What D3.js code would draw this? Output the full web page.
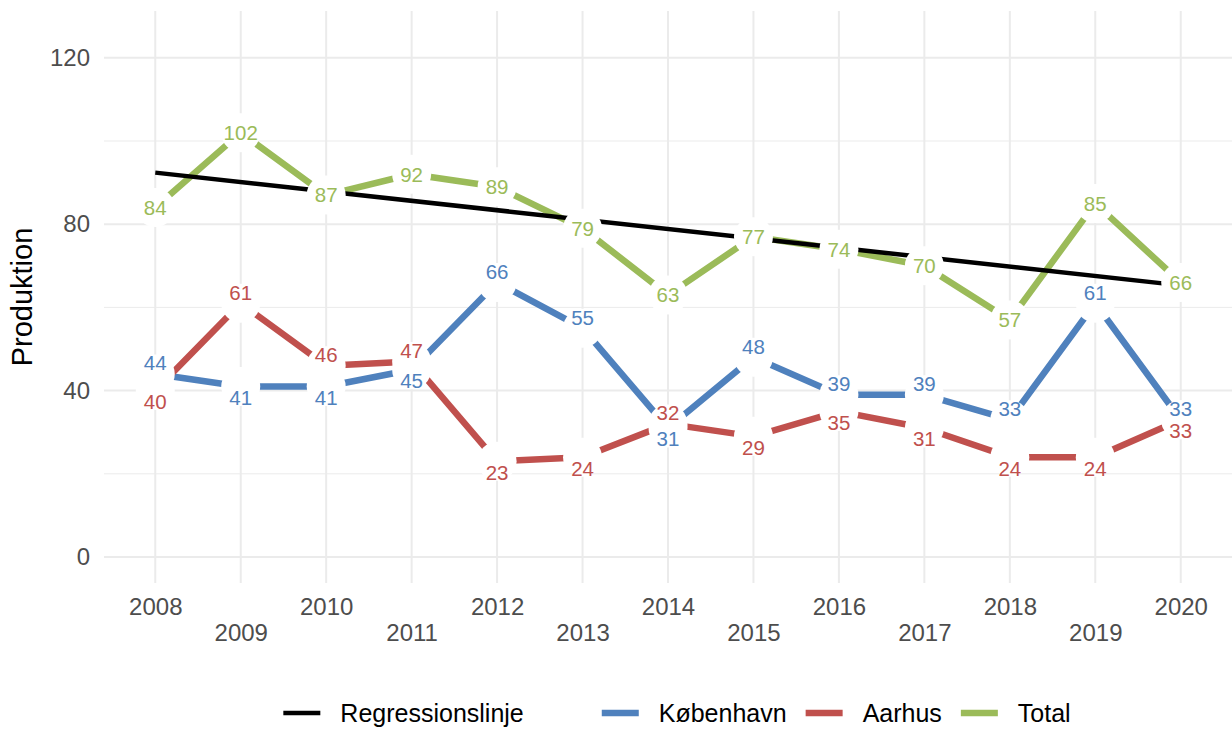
<!DOCTYPE html>
<html>
<head>
<meta charset="utf-8">
<script src="https://cdn.jsdelivr.net/npm/d3@7"></script>
<style>
  body { margin: 0; background: #fff; }
  text { font-family: "Liberation Sans", Arial, sans-serif; }
</style>
</head>
<body>
<div class="svgContainer"></div>
<script>
// data
const years = [2008, 2009, 2010, 2011, 2012, 2013, 2014, 2015, 2016, 2017, 2018, 2019, 2020];
const kbh = [44, 41, 41, 45, 66, 55, 31, 48, 39, 39, 33, 61, 33];
const aarhus = [40, 61, 46, 47, 23, 24, 32, 29, 35, 31, 24, 24, 33];
const total = [84, 102, 87, 92, 89, 79, 63, 77, 74, 70, 57, 85, 66];
const yTicks = [0, 40, 80, 120];
const yMinor = [20, 60, 100];
const seriesNames = ["København", "Aarhus", "Total"];
const regName = "Regressionslinje";
const yTitle = "Produktion";

const colors = { "København": "#4F81BD", "Aarhus": "#C0504D", "Total": "#9BBB59" };

let width = 1232,
    height = 729;

const svg = d3.select('.svgContainer')
    .append('svg')
    .attr('width', width)
    .attr('height', height);

svg.append('rect').attr('width', width).attr('height', height).attr('fill', '#fff');

const panel = { left: 104, right: 1232, top: 11, bottom: 583 };

const x = d3.scaleLinear()
    .domain([2008 - 0.6, 2020 + 0.6])
    .range([panel.left, panel.right]);

const y = d3.scaleLinear()
    .domain([-6.25, 131.25])
    .range([panel.bottom, panel.top]);

// grid
const grid = svg.append('g');
grid.selectAll('.minor')
    .data(yMinor)
    .enter().append('line')
    .attr('x1', panel.left).attr('x2', panel.right)
    .attr('y1', d => y(d)).attr('y2', d => y(d))
    .attr('stroke', '#EBEBEB').attr('stroke-width', 1);
grid.selectAll('.hmajor')
    .data(yTicks)
    .enter().append('line')
    .attr('x1', panel.left).attr('x2', panel.right)
    .attr('y1', d => y(d)).attr('y2', d => y(d))
    .attr('stroke', '#EBEBEB').attr('stroke-width', 2);
grid.selectAll('.vmajor')
    .data(years)
    .enter().append('line')
    .attr('x1', d => x(d)).attr('x2', d => x(d))
    .attr('y1', panel.top).attr('y2', panel.bottom)
    .attr('stroke', '#EBEBEB').attr('stroke-width', 2);

// axes
const yAxis = svg.append('g')
    .attr('transform', `translate(${panel.left},0)`)
    .call(d3.axisLeft(y).tickValues(yTicks).tickSize(0).tickPadding(14));
yAxis.select('.domain').remove();
yAxis.selectAll('text')
    .attr('font-size', 24)
    .attr('fill', '#4D4D4D')
    .style('font-family', '"Liberation Sans", Arial, sans-serif');

const xAxis = svg.append('g')
    .attr('transform', `translate(0,${panel.bottom})`)
    .call(d3.axisBottom(x).tickValues(years).tickFormat(d3.format('d')).tickSize(0));
xAxis.select('.domain').remove();
xAxis.selectAll('text')
    .attr('font-size', 24)
    .attr('fill', '#4D4D4D')
    .attr('y', (d, i) => i % 2 ? 49.5 : 23.5)
    .attr('dy', '0.36em')
    .style('font-family', '"Liberation Sans", Arial, sans-serif');

svg.append('text')
    .attr('transform', `translate(22,${(panel.top + panel.bottom) / 2}) rotate(-90)`)
    .attr('text-anchor', 'middle')
    .attr('dy', '0.36em')
    .attr('font-size', 29)
    .attr('fill', '#000')
    .text(yTitle);

// series
const series = [
    { name: "København", values: kbh },
    { name: "Aarhus", values: aarhus },
    { name: "Total", values: total }
].map(s => ({ name: s.name, points: years.map((yr, i) => ({ year: yr, value: s.values[i], i: i })) }));

const line = d3.line()
    .x(d => x(d.year))
    .y(d => y(d.value));

svg.append('g').selectAll('path')
    .data(series)
    .enter().append('path')
    .attr('d', d => line(d.points))
    .attr('fill', 'none')
    .attr('stroke', d => colors[d.name])
    .attr('stroke-width', 6.5)
    .attr('stroke-linejoin', 'round');

// regression on total (least squares)
const mx = d3.mean(years), my = d3.mean(total);
const slope = d3.sum(years, (yr, i) => (yr - mx) * (total[i] - my)) / d3.sum(years, yr => (yr - mx) * (yr - mx));
const reg = [years[0], years[years.length - 1]].map(yr => ({ year: yr, value: my + slope * (yr - mx) }));

svg.append('path')
    .attr('d', line(reg))
    .attr('fill', 'none')
    .attr('stroke', '#000')
    .attr('stroke-width', 4.5);

// white points that cut the lines
const allPoints = series.flatMap(s => s.points.map(p => Object.assign({ name: s.name }, p)));
svg.append('g').selectAll('circle')
    .data(allPoints)
    .enter().append('circle')
    .attr('cx', d => x(d.year))
    .attr('cy', d => y(d.value))
    .attr('r', 19.5)
    .attr('fill', '#fff');

// labels: totals on the point, the two cities pushed apart
function labelOffset(d) {
    if (d.name === "Total") return 0;
    const k = kbh[d.i], a = aarhus[d.i];
    const kbhUp = k >= a;
    if (d.name === "København") return kbhUp ? -11 : 11;
    return kbhUp ? 11 : -11;
}

svg.append('g').selectAll('text')
    .data(allPoints)
    .enter().append('text')
    .attr('x', d => x(d.year))
    .attr('y', d => y(d.value) + labelOffset(d))
    .attr('dy', '0.36em')
    .attr('text-anchor', 'middle')
    .attr('font-size', 20.5)
    .attr('fill', d => colors[d.name])
    .text(d => d.value);

// legend
const legendY = 713;
const legend = svg.append('g');
const items = [{ name: regName, color: '#000', w: 4.5, gapAfter: 78 }]
    .concat(seriesNames.map(n => ({ name: n, color: colors[n], w: 6.5, gapAfter: 19 })));

let cursor = 0;
items.forEach((it, idx) => {
    const g = legend.append('g');
    g.append('line')
        .attr('x1', cursor).attr('x2', cursor + 37)
        .attr('y1', legendY).attr('y2', legendY)
        .attr('stroke', it.color).attr('stroke-width', it.w);
    const t = g.append('text')
        .attr('x', cursor + 57)
        .attr('y', legendY)
        .attr('dy', '0.36em')
        .attr('font-size', 25)
        .attr('fill', '#000')
        .text(it.name);
    const tw = t.node().getComputedTextLength();
    cursor += 57 + tw + (idx < items.length - 1 ? it.gapAfter : 0);
});
legend.attr('transform', `translate(${677 - cursor / 2},0)`);
</script>
</body>
</html>
